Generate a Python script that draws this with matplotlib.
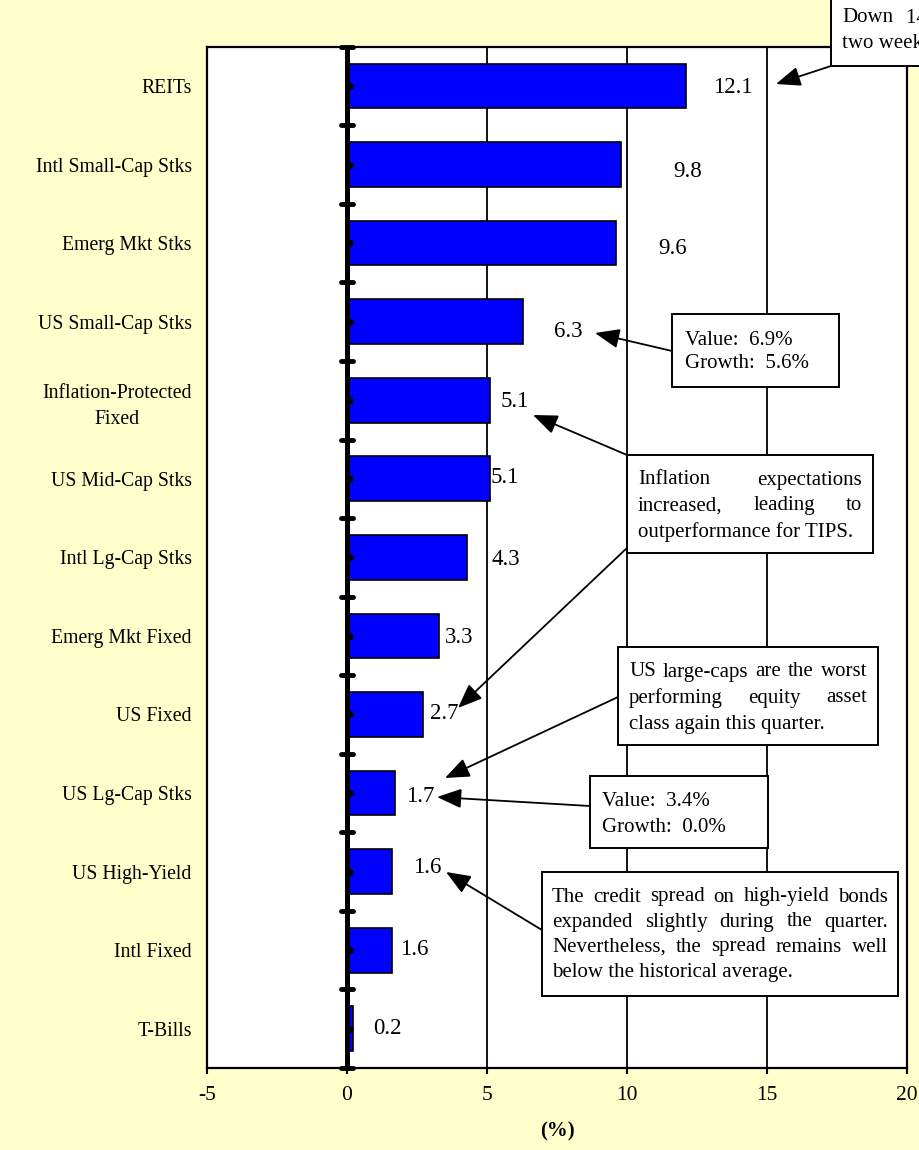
import numpy as np
import matplotlib.pyplot as plt

# Asset class returns for the quarter (%)
categories = ['REITs', 'Intl Small-Cap Stks', 'Emerg Mkt Stks', 'US Small-Cap Stks',
              'Inflation-Protected\nFixed', 'US Mid-Cap Stks', 'Intl Lg-Cap Stks',
              'Emerg Mkt Fixed', 'US Fixed', 'US Lg-Cap Stks', 'US High-Yield',
              'Intl Fixed', 'T-Bills']
returns = [12.1, 9.8, 9.6, 6.3, 5.1, 5.1, 4.3, 3.3, 2.7, 1.7, 1.6, 1.6, 0.2]
x_ticks = [-5, 0, 5, 10, 15, 20]

# Value labels were dragged around by hand in the original, so keep their offsets
label_dx = [1.69, 2.38, 2.04, 1.59, 0.90, 0.54, 1.38, 0.70, 0.76, 0.91, 1.26, 0.79, 1.23]
label_dy = [0.02, 0.09, 0.07, 0.13, 0.02, -0.02, 0.03, 0.02, -0.01, 0.04, -0.05, -0.01, 0.0]

W, H = 919, 1150
BG = '#FFFFCC'
plt.rcParams['font.family'] = ['Liberation Serif', 'DejaVu Serif']

fig = plt.figure(figsize=(W / 100, H / 100), dpi=100, facecolor=BG)
ax = fig.add_axes([207 / W, 1 - 1068 / H, 700 / W, (1068 - 46.7) / H])
ax.set_facecolor('white')

y = np.arange(len(categories))
ax.barh(y, returns, height=0.57, color='#0000FF', edgecolor='black', lw=1.2, zorder=3)

for i, v in enumerate(returns):
    ax.text(v + label_dx[i], i + label_dy[i], f'{v:.1f}', ha='center', va='center',
            fontsize=16.5, zorder=6)

ax.set_xlim(-5, 20)
ax.set_ylim(len(categories) - 0.5, -0.5)
ax.set_xticks(x_ticks)
ax.set_xticklabels([str(t) for t in x_ticks], fontsize=15.5)
ax.set_yticks(y)
ax.set_yticklabels(categories, fontsize=14.2, multialignment='center', linespacing=1.55)
ax.tick_params(axis='y', length=0, pad=11)
ax.tick_params(axis='x', direction='out', length=4, width=1.5, pad=9)
ax.grid(axis='x', color='black', lw=1.3)
ax.set_axisbelow(True)
for s in ax.spines.values():
    s.set_linewidth(1.6)
ax.set_xlabel('(%)', fontsize=15, fontweight='bold', labelpad=12)

# thick zero axis with Excel-style cross ticks
ax.axvline(0, color='black', lw=3.6, zorder=4)
for b in np.arange(-0.5, len(categories)):
    ax.plot([-0.2, 0.2], [b, b], color='black', lw=3.5, solid_capstyle='round',
            zorder=5, clip_on=False)
ax.plot([0.1] * len(categories), y, 'o', ms=3.8, color='black', zorder=5)


def fp(px, py):
    return (px / W, 1 - py / H)


def box(l, t, r, b):
    rect = plt.Rectangle(fp(l, b), (r - l) / W, (b - t) / H, transform=fig.transFigure,
                         facecolor='white', edgecolor='black', lw=1.4, zorder=10)
    fig.patches.append(rect)


def arrow(start, tip):
    ax.annotate('', xy=fp(*tip), xycoords='figure fraction', xytext=fp(*start),
                textcoords='figure fraction',
                arrowprops=dict(arrowstyle='-|>,head_length=0.75,head_width=0.3',
                                mutation_scale=20, color='black', lw=1.3,
                                shrinkA=0, shrinkB=0), annotation_clip=False, zorder=9)


renderer = fig.canvas.get_renderer()


def lines_text(lines, left, right, ys, justify=False, fs=15):
    for k, (line, yy) in enumerate(zip(lines, ys)):
        words = line.split()
        if not justify or k == len(lines) - 1 or len(words) < 2:
            fig.text(*fp(left, yy), line, ha='left', va='center', fontsize=fs, zorder=11)
            continue
        ts = [fig.text(*fp(left, yy), w, ha='left', va='center', fontsize=fs, zorder=11)
              for w in words]
        ws = [t.get_window_extent(renderer).width for t in ts]
        gap = (right - left - sum(ws)) / (len(words) - 1)
        x = left
        for t, w in zip(ts, ws):
            t.set_x(x / W)
            x += w + gap


# top-right note (runs off the page in the original)
box(831, -20, 1200, 66)
fig.text(*fp(842, 18), 'Down', ha='left', va='center', fontsize=15, zorder=11)
fig.text(*fp(906, 18), '14% over the past', ha='left', va='center', fontsize=15, zorder=11)
fig.text(*fp(842, 44), 'two weeks.', ha='left', va='center', fontsize=15, zorder=11)
arrow((831, 66), (776, 84))

# small-cap style split
box(672, 314, 839, 387)
lines_text(['Value:  6.9%', 'Growth:  5.6%'], 685, 830, [340, 364])
arrow((672, 351), (595, 333))

# TIPS note
box(627, 455, 873, 553)
lines_text(['Inflation expectations', 'increased, leading to',
            'outperformance for TIPS.'], 638, 862, [480, 506, 532], justify=True)
arrow((627, 455), (533, 415))
arrow((628, 547), (458, 708))

# large-cap note
box(618, 647, 878, 745)
lines_text(['US large-caps are the worst', 'performing equity asset',
            'class again this quarter.'], 629, 867, [672, 698, 724], justify=True)
arrow((618, 697), (445, 778))

# large-cap style split
box(590, 776, 768, 848)
lines_text(['Value:  3.4%', 'Growth:  0.0%'], 602, 760, [802, 827])
arrow((590, 806), (437, 797))

# high-yield note
box(542, 872, 898, 996)
lines_text(['The credit spread on high-yield bonds',
            'expanded slightly during the quarter.',
            'Nevertheless, the spread remains well',
            'below the historical average.'], 552, 888, [897, 922, 947, 972], justify=True)
arrow((542, 930), (446, 872))

fig.savefig('out.png', dpi=100, facecolor=BG)
